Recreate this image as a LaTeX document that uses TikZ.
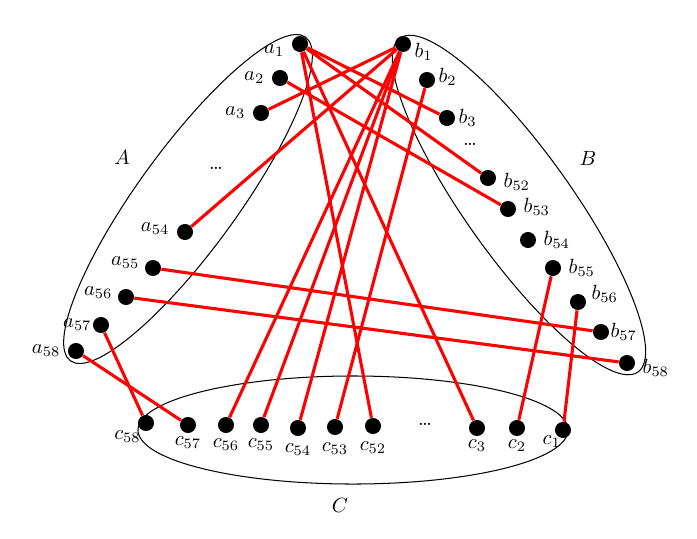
\documentclass[tikz,border=0pt]{standalone}
\usepackage{xcolor}
\usepackage{tikz}
\usetikzlibrary{shapes.geometric}

\begin{document}
\begin{tikzpicture}[
    x=0.486pt, y=-0.486pt,
    vertex/.style={circle, fill=black, minimum size=7.8pt, inner sep=0pt},
    link/.style={red, line width=1.5pt},
    setline/.style={draw, ellipse, line width=0.5pt, inner sep=0pt}
]
\useasboundingbox (0,0) rectangle (697,538);

% the three sets
\node (setA) [setline, minimum width=194.4pt, minimum height=48.6pt, rotate=54] at (188,199) {};
\node (setB) [setline, minimum width=199.3pt, minimum height=51.5pt, rotate=-54.5] at (519,205) {};
\node (setC) [setline, minimum width=209pt, minimum height=52.5pt] at (353,430) {};

\node (nameA) at (122,157) {$A$};
\node (nameB) at (588,158) {$B$};
\node (nameC) at (340,505) {$C$};
\node (dotsA) at (216,168) {\dots};
\node (dotsB) at (470,144) {\dots};
\node (dotsC) at (425,424) {\dots};

% vertices of A
\node (a1) [vertex, label={[yshift=-3pt]left:$a_1$}] at (300,44) {};
\node (a2) [vertex, label=left:$a_2$] at (280,78) {};
\node (a3) [vertex, label=left:$a_3$] at (261,113) {};
\node (a54) [vertex, label={[yshift=1.5pt]left:$a_{54}$}] at (185,232) {};
\node (a55) [vertex, label={[yshift=2.5pt, label distance=-1pt]left:$a_{55}$}] at (153,268) {};
\node (a56) [vertex, label={[yshift=2pt, label distance=-1pt]left:$a_{56}$}] at (126,297) {};
\node (a57) [vertex, label={[label distance=-3pt]left:$a_{57}$}] at (101,325) {};
\node (a58) [vertex, label=left:$a_{58}$] at (76,351) {};

% vertices of B
\node (b1) [vertex, label={[yshift=-4pt, label distance=-2pt]right:$b_1$}] at (403,44) {};
\node (b2) [vertex, label={[yshift=1.5pt, label distance=-2pt]right:$b_2$}] at (427,80) {};
\node (b3) [vertex, label={[label distance=-2pt]right:$b_3$}] at (447,118) {};
\node (b52) [vertex, label={[yshift=-2pt]right:$b_{52}$}] at (488,178) {};
\node (b53) [vertex, label={[yshift=1pt]right:$b_{53}$}] at (508,209) {};
\node (b54) [vertex, label=right:$b_{54}$] at (528,240) {};
\node (b55) [vertex, label=right:$b_{55}$] at (553,268) {};
\node (b56) [vertex, label={[yshift=4pt, label distance=-1pt]right:$b_{56}$}] at (578,302) {};
\node (b57) [vertex, label={[label distance=-3pt]right:$b_{57}$}] at (601,332) {};
\node (b58) [vertex, label={[yshift=-2.5pt]right:$b_{58}$}] at (627,363) {};

% vertices of C
\node (c58) [vertex, label={[xshift=-9pt, label distance=-4pt]below:$c_{58}$}] at (146,423) {};
\node (c57) [vertex, label={[label distance=-2pt]below:$c_{57}$}] at (188,425) {};
\node (c56) [vertex, label={[label distance=-1pt]below:$c_{56}$}] at (226,425) {};
\node (c55) [vertex, label={[label distance=-1pt]below:$c_{55}$}] at (261,425) {};
\node (c54) [vertex, label=below:$c_{54}$] at (298,428) {};
\node (c53) [vertex, label=below:$c_{53}$] at (335,427) {};
\node (c52) [vertex, label=below:$c_{52}$] at (373,426) {};
\node (c3) [vertex, label={[label distance=-2pt]below:$c_3$}] at (477,428) {};
\node (c2) [vertex, label={[label distance=-2pt]below:$c_2$}] at (517,428) {};
\node (c1) [vertex, label={[xshift=-5.5pt, label distance=-5pt]below:$c_1$}] at (563,430) {};

\draw[link] (a1) -- (b3);
\draw[link] (a1) -- (b52);
\draw[link] (a1) -- (c52);
\draw[link] (a1) -- (c3);
\draw[link] (a2) -- (b53);
\draw[link] (a3) -- (b1);
\draw[link] (a54) -- (b1);
\draw[link] (b1) -- (c56);
\draw[link] (b1) -- (c55);
\draw[link] (b1) -- (c54);
\draw[link] (b2) -- (c53);
\draw[link] (a55) -- (b57);
\draw[link] (a56) -- (b58);
\draw[link] (a57) -- (c58);
\draw[link] (a58) -- (c57);
\draw[link] (b55) -- (c2);
\draw[link] (b56) -- (c1);
\end{tikzpicture}
\end{document}
